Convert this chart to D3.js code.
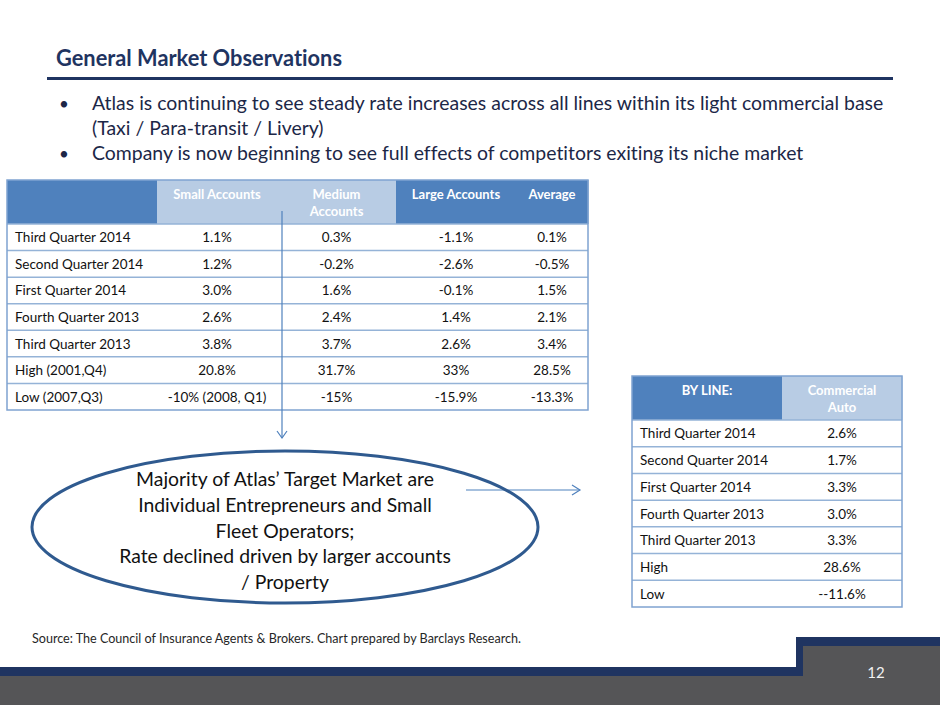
<!DOCTYPE html>
<html lang="en">
<head>
<meta charset="UTF-8">
<title>General Market Observations</title>
<style>
  html, body { margin: 0; padding: 0; background: #fff; }
  svg { display: block; font-family: Lato, "Open Sans", sans-serif; font-variant-ligatures: none; font-feature-settings: "liga" 0; }
</style>
</head>
<body>
<script src="https://cdn.jsdelivr.net/npm/d3@7"></script>
<script>
// ---- data ----
const quarterLabels = ['Third Quarter 2014', 'Second Quarter 2014', 'First Quarter 2014',
  'Fourth Quarter 2013', 'Third Quarter 2013', 'High (2001,Q4)', 'Low (2007,Q3)'];
const accountHeaders = [[], ['Small Accounts'], ['Medium', 'Accounts'], ['Large Accounts'], ['Average']];
const smallAccounts = ['1.1%', '1.2%', '3.0%', '2.6%', '3.8%', '20.8%', '-10% (2008, Q1)'];
const mediumAccounts = ['0.3%', '-0.2%', '1.6%', '2.4%', '3.7%', '31.7%', '-15%'];
const largeAccounts = ['-1.1%', '-2.6%', '-0.1%', '1.4%', '2.6%', '33%', '-15.9%'];
const averageAccounts = ['0.1%', '-0.5%', '1.5%', '2.1%', '3.4%', '28.5%', '-13.3%'];

const lineLabels = ['Third Quarter 2014', 'Second Quarter 2014', 'First Quarter 2014',
  'Fourth Quarter 2013', 'Third Quarter 2013', 'High', 'Low'];
const lineHeaders = [['BY LINE:'], ['Commercial', 'Auto']];
const commercialAuto = ['2.6%', '1.7%', '3.3%', '3.0%', '3.3%', '28.6%', '--11.6%'];

const titleText = 'General Market Observations';
const bullets = [
  ['Atlas is continuing to see steady rate increases across all lines within its light commercial base', '(Taxi / Para-transit / Livery)'],
  ['Company is now beginning to see full effects of competitors exiting its niche market']
];
const ellipseLines = ['Majority of Atlas\u2019 Target Market are', 'Individual Entrepreneurs and Small',
  'Fleet Operators;', 'Rate declined driven by larger accounts', '/ Property'];
const sourceText = 'Source: The Council of Insurance Agents & Brokers. Chart prepared by Barclays Research.';
const pageNumber = '12';

// ---- layout ----
const W = 940, H = 705;
const navy = '#1f3461', dark = '#4f81bd', light = '#b8cce4', rule = '#95b3d7', grey = '#555557';

const svg = d3.select('body').append('svg').attr('width', W).attr('height', H);

// squeeze a text node to a target width, keeping its height
function fit(sel, target) {
  sel.each(function () {
    const w = this.getComputedTextLength();
    if (target && Math.abs(w - target) > 1) {
      d3.select(this).attr('textLength', target).attr('lengthAdjust', 'spacingAndGlyphs');
    }
  });
}
// scale font of a block of lines so the longest one hits target width
function sizeBlock(sel, base, target) {
  let maxW = 0;
  sel.attr('font-size', base).each(function () { maxW = Math.max(maxW, this.getComputedTextLength()); });
  sel.attr('font-size', base * target / maxW);
}

// title + rule
svg.append('text').attr('x', 56).attr('y', 66)
  .attr('font-size', 22).attr('font-weight', 700).attr('fill', navy)
  .text(titleText).call(fit, 286);
svg.append('rect').attr('x', 47).attr('y', 77).attr('width', 846).attr('height', 3).attr('fill', navy);

// bullets
const bulletY = d3.scaleOrdinal().domain([0, 1]).range([110, 160]);
const bulletText = svg.append('g').attr('fill', '#1c2747');
bullets.forEach((lines, i) => {
  svg.append('text').attr('x', 59).attr('y', bulletY(i)).attr('font-size', 17).attr('fill', '#1c2747').text('\u2022');
  lines.forEach((ln, j) => {
    bulletText.append('text').attr('x', 92).attr('y', bulletY(i) + j * 25).text(ln);
  });
});
sizeBlock(bulletText.selectAll('text'), 19, 792);

// generic table
function drawTable(opt) {
  const g = svg.append('g');
  const nCols = opt.edges.length - 1;
  const colIdx = d3.range(nCols);
  const colX = d3.scaleOrdinal().domain(colIdx).range(colIdx.map(c => opt.edges[c]));
  const colW = c => opt.edges[c + 1] - opt.edges[c];
  const y = d3.scaleBand().domain(opt.rows).range([opt.top + opt.headH, opt.bottom]);
  const left = opt.edges[0], right = opt.edges[nCols];

  // header cells
  g.selectAll('rect.h').data(colIdx).join('rect')
    .attr('x', c => colX(c)).attr('y', opt.top)
    .attr('width', c => colW(c) + 0.5).attr('height', opt.headH)
    .attr('fill', c => opt.headFill[c]);
  colIdx.forEach(c => {
    opt.headers[c].forEach((t, k) => {
      g.append('text').attr('x', colX(c) + colW(c) / 2).attr('y', opt.top + 18.5 + k * 17)
        .attr('text-anchor', 'middle').attr('font-size', 13).attr('font-weight', 700)
        .attr('fill', '#fff').text(t);
    });
  });

  // row lines
  g.selectAll('line.r').data(opt.rows).join('line')
    .attr('x1', left).attr('x2', right)
    .attr('y1', d => y(d)).attr('y2', d => y(d))
    .attr('stroke', rule).attr('stroke-width', 1.5);

  // body text
  g.selectAll('text.lab').data(opt.rows).join('text')
    .attr('x', left + 8).attr('y', d => y(d) + y.bandwidth() / 2 + 5)
    .attr('font-size', 13.5).attr('fill', '#111').text(d => d);
  opt.values.forEach((vals, c) => {
    g.selectAll(null).data(vals).join('text')
      .attr('x', colX(c + 1) + colW(c + 1) / 2)
      .attr('y', (d, i) => y(opt.rows[i]) + y.bandwidth() / 2 + 5)
      .attr('text-anchor', 'middle').attr('font-size', 13.5).attr('fill', '#111').text(d => d);
  });

  // outline
  g.append('rect').attr('x', left).attr('y', opt.top)
    .attr('width', right - left).attr('height', opt.bottom - opt.top)
    .attr('fill', 'none').attr('stroke', '#7fa3d1').attr('stroke-width', 1.5);
}

drawTable({
  rows: quarterLabels,
  headers: accountHeaders,
  values: [smallAccounts, mediumAccounts, largeAccounts, averageAccounts],
  edges: [7, 157, 277, 396, 516, 588],
  headFill: [dark, light, light, dark, dark],
  top: 180, headH: 44, bottom: 410
});

drawTable({
  rows: lineLabels,
  headers: lineHeaders,
  values: [commercialAuto],
  edges: [632, 782, 902],
  headFill: [dark, light],
  top: 376, headH: 44, bottom: 607
});

// arrows
const arrowBlue = '#4f81bd';
svg.append('line').attr('x1', 282).attr('x2', 282).attr('y1', 211).attr('y2', 438)
  .attr('stroke', arrowBlue).attr('stroke-width', 1.2);
svg.append('path').attr('d', 'M277,431 L282,438 L287,431').attr('fill', 'none')
  .attr('stroke', arrowBlue).attr('stroke-width', 1.2);
svg.append('line').attr('x1', 466).attr('x2', 580).attr('y1', 490).attr('y2', 490)
  .attr('stroke', arrowBlue).attr('stroke-width', 1.2);
svg.append('path').attr('d', 'M572,485 L580,490 L572,495').attr('fill', 'none')
  .attr('stroke', arrowBlue).attr('stroke-width', 1.2);

// ellipse callout
svg.append('ellipse').attr('cx', 285).attr('cy', 527).attr('rx', 253).attr('ry', 76)
  .attr('fill', 'none').attr('stroke', '#2f5a8f').attr('stroke-width', 3);
const ellY = d3.scalePoint().domain(d3.range(ellipseLines.length)).range([486, 589]);
const ellText = svg.append('g').attr('fill', '#111').attr('text-anchor', 'middle');
ellText.selectAll('text').data(ellipseLines).join('text')
  .attr('x', 285).attr('y', (d, i) => ellY(i)).text(d => d);
sizeBlock(ellText.selectAll('text'), 19, 332);

// source
svg.append('text').attr('x', 32).attr('y', 643).attr('font-size', 13).attr('fill', '#262626')
  .text(sourceText).call(fit, 489);

// footer
svg.append('rect').attr('x', 0).attr('y', 667).attr('width', W).attr('height', 38).attr('fill', navy);
svg.append('rect').attr('x', 796).attr('y', 637).attr('width', W - 796).attr('height', 40).attr('fill', navy);
svg.append('rect').attr('x', 0).attr('y', 676).attr('width', W).attr('height', 29).attr('fill', grey);
svg.append('rect').attr('x', 803).attr('y', 646).attr('width', W - 803).attr('height', 59).attr('fill', grey);
svg.append('text').attr('x', 876).attr('y', 678).attr('text-anchor', 'middle')
  .attr('font-size', 15).attr('fill', '#f2f2f2').text(pageNumber);
</script>
</body>
</html>
